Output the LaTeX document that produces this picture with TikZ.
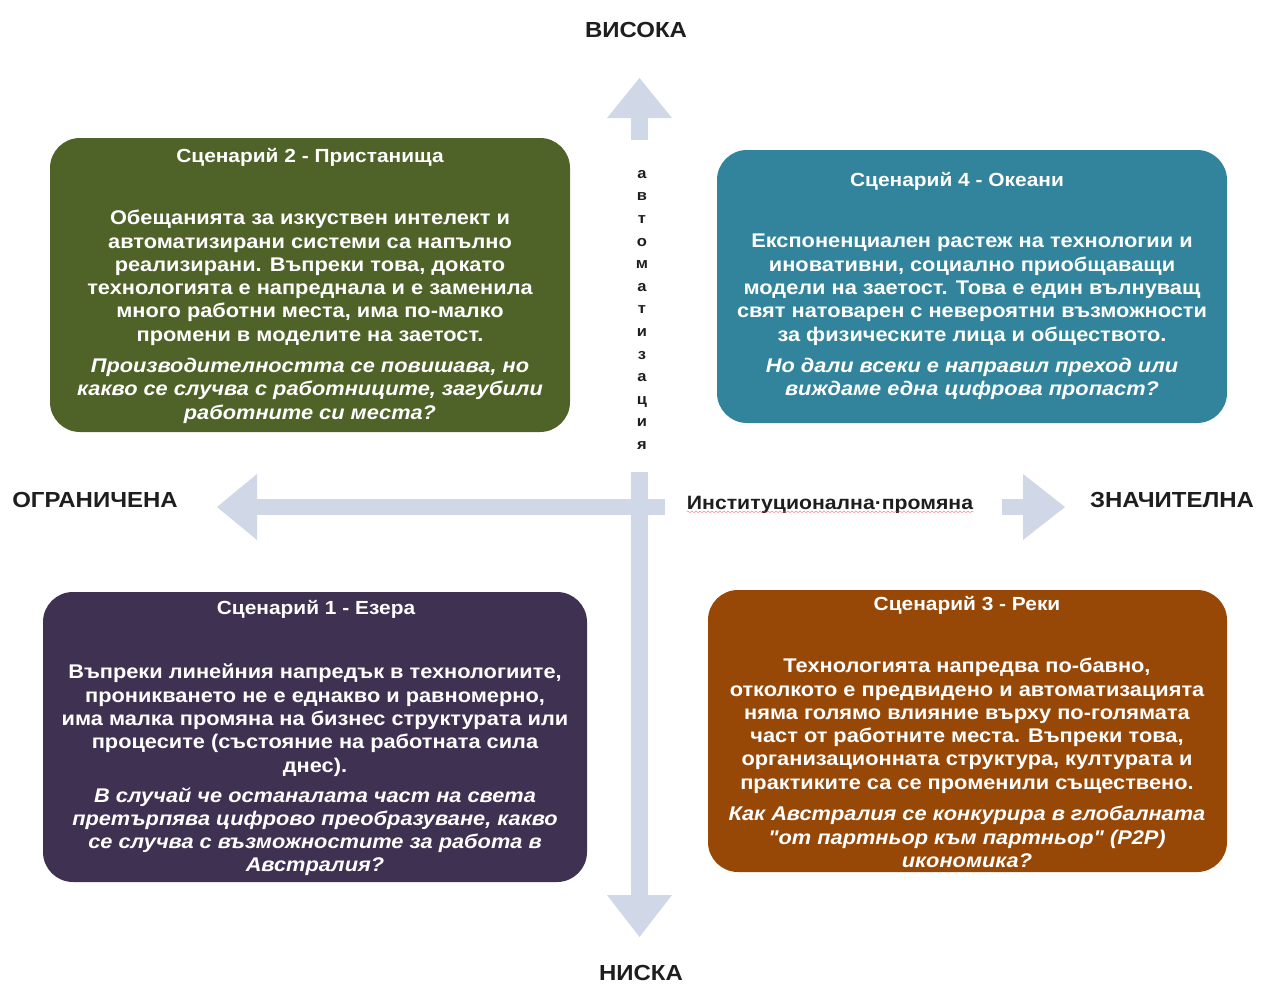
\documentclass[tikz,border=0pt]{standalone}
\usepackage{fontspec}
\setmainfont{Liberation Sans}[Ligatures=TeXOff, FakeStretch=1.1]
\usetikzlibrary{decorations.pathmorphing}

\definecolor{axisblue}{RGB}{208,215,230}
\definecolor{olivebox}{RGB}{79,98,40}
\definecolor{tealbox}{RGB}{49,132,155}
\definecolor{purplebox}{RGB}{63,49,81}
\definecolor{brownbox}{RGB}{152,72,6}
\definecolor{labelgray}{RGB}{30,30,30}

\tikzset{
  scenbox/.style={rectangle, rounded corners=30pt, inner sep=0pt, draw=none},
  scentitle/.style={font=\bfseries\fontsize{19}{22}\selectfont, text=white, inner sep=0pt},
  scenbody/.style={font=\bfseries\fontsize{19.8}{23.3}\selectfont, text=white, align=center, inner sep=0pt, anchor=north},
  scenquest/.style={font=\bfseries\itshape\fontsize{19.8}{23.3}\selectfont, text=white, align=center, inner sep=0pt, anchor=north},
  axislabel/.style={font=\bfseries\fontsize{21.8}{24}\selectfont, text=labelgray, inner sep=0pt},
}

\begin{document}
\begin{tikzpicture}[x=1pt,y=-1pt]
\useasboundingbox (0,0) rectangle (1261,985);

% block arrows of the two axes
\coordinate (centre) at (639.5,507);
\fill[axisblue] (631,118) rectangle (648,140);
\fill[axisblue] (607,118) -- (639.5,78) -- (672,118) -- cycle;
\fill[axisblue] (631,472) rectangle (648,895);
\fill[axisblue] (607,895) -- (639.5,937) -- (672,895) -- cycle;
\fill[axisblue] (256,499) rectangle (665,515);
\fill[axisblue] (257,474) -- (217,507) -- (257,540) -- cycle;
\fill[axisblue] (1002,499) rectangle (1024,515);
\fill[axisblue] (1023,474) -- (1065,507) -- (1023,540) -- cycle;

% axis end labels
\node[axislabel] (high) at (636,30) {ВИСОКА};
\node[axislabel] (low) at (641,973) {НИСКА};
\node[axislabel] (limited) at (95,500) {ОГРАНИЧЕНА};
\node[axislabel] (major) at (1172,500) {ЗНАЧИТЕЛНА};

% axis names
\node[font=\bfseries\fontsize{15}{22.6}\selectfont, align=center, text=labelgray, inner sep=0pt, anchor=north]
  (automation) at (642,170) {а\\в\\т\\о\\м\\а\\т\\и\\з\\а\\ц\\и\\я};
\node[font=\bfseries\fontsize{19.3}{22}\selectfont, text=labelgray, inner sep=0pt]
  (institution) at (830,505) {Институционална·промяна};
\draw[red!75, line width=0.6pt, opacity=0.55,
      decorate, decoration={snake, amplitude=0.9pt, segment length=4pt}]
  (institution.south west) ++(0,-2) -- ([yshift=2pt]institution.south east);

% Scenario 2 (top left)
\node[scenbox, fill=olivebox, minimum width=520pt, minimum height=294pt] (s2) at (310,285) {};
\node[scentitle] (s2t) at (310,157) {Сценарий 2 - Пристанища};
\node[scenbody] (s2b) at (310,210) {Обещанията за изкуствен интелект и\\
автоматизирани системи са напълно\\
реализирани. Въпреки това, докато\\
технологията е напреднала и е заменила\\
много работни места, има по-малко\\
промени в моделите на заетост.};
\node[scenquest] (s2q) at (310,358) {Производителността се повишава, но\\
какво се случва с работниците, загубили\\
работните си места?};

% Scenario 4 (top right)
\node[scenbox, fill=tealbox, minimum width=510pt, minimum height=273pt] (s4) at (972,286.5) {};
\node[scentitle] (s4t) at (957,181) {Сценарий 4 - Океани};
\node[scenbody] (s4b) at (972,234) {Експоненциален растеж на технологии и\\
иновативни, социално приобщаващи\\
модели на заетост. Това е един вълнуващ\\
свят натоварен с невероятни възможности\\
за физическите лица и обществото.};
\node[scenquest] (s4q) at (972,358) {Но дали всеки е направил преход или\\
виждаме една цифрова пропаст?};

% Scenario 1 (bottom left)
\node[scenbox, fill=purplebox, minimum width=544pt, minimum height=290pt] (s1) at (315,737) {};
\node[scentitle] (s1t) at (316,609) {Сценарий 1 - Езера};
\node[scenbody] (s1b) at (315,664) {Въпреки линейния напредък в технологиите,\\
проникването не е еднакво и равномерно,\\
има малка промяна на бизнес структурата или\\
процесите (състояние на работната сила\\
днес).};
\node[scenquest] (s1q) at (315,787) {В случай че останалата част на света\\
претърпява цифрово преобразуване, какво\\
се случва с възможностите за работа в\\
Австралия?};

% Scenario 3 (bottom right)
\node[scenbox, fill=brownbox, minimum width=519pt, minimum height=282pt] (s3) at (967.5,731) {};
\node[scentitle] (s3t) at (967,605) {Сценарий 3 - Реки};
\node[scenbody] (s3b) at (967,658) {Технологията напредва по-бавно,\\
отколкото е предвидено и автоматизацията\\
няма голямо влияние върху по-голямата\\
част от работните места. Въпреки това,\\
организационната структура, културата и\\
практиките са се променили съществено.};
\node[scenquest] (s3q) at (967,806) {Как Австралия се конкурира в глобалната\\
"от партньор към партньор" (P2P)\\
икономика?};
\end{tikzpicture}
\end{document}
